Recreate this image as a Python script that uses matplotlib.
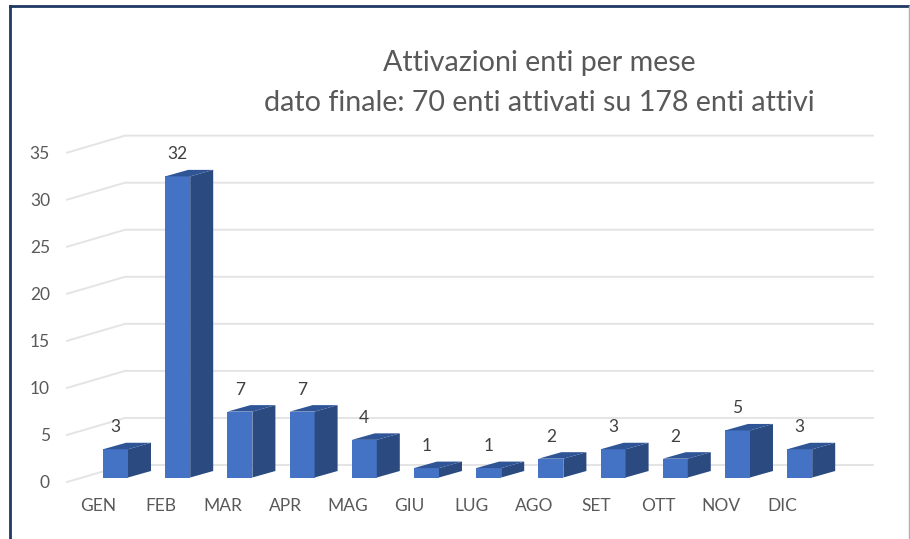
import matplotlib.pyplot as plt
from matplotlib.patches import Polygon

plt.rcParams['font.family'] = ['Lato', 'DejaVu Sans']

# Data
months = ["GEN", "FEB", "MAR", "APR", "MAG", "GIU", "LUG", "AGO", "SET", "OTT", "NOV", "DIC"]
values = [3, 32, 7, 7, 4, 1, 1, 2, 3, 2, 5, 3]
y_ticks = [0, 5, 10, 15, 20, 25, 30, 35]

title_line1 = "Attivazioni enti per mese"
title_line2 = "dato finale: 70 enti attivati su 178 enti attivi"

front_color = '#4472c4'
side_color = '#2a4a80'
top_color = '#2f5597'
grid_color = '#e4e4e4'
text_color = '#595959'
frame_color = '#1f3864'

# Pixel scale of the original: one month step and one unit of value
px_per_month = 62.2
px_per_unit = 9.41
x0_px = 115.5
y0_px = 477.5

fig = plt.figure(figsize=(9.1, 5.39), dpi=100)
ax = fig.add_axes([0, 0, 1, 1])
ax.set_xlim(-x0_px / px_per_month, (910 - x0_px) / px_per_month)
ax.set_ylim((y0_px - 539) / px_per_unit, y0_px / px_per_unit)
ax.axis('off')

# Bar size and oblique depth, in data units
bar_w = 25 / px_per_month
depth_x = 23 / px_per_month
depth_y = 6.5 / px_per_unit

# Gridlines: slanted part on the left wall, then flat along the back wall
wall_x0 = (67 - x0_px) / px_per_month
wall_x1 = (125 - x0_px) / px_per_month
wall_x2 = (873 - x0_px) / px_per_month
wall_dy = 17 / px_per_unit
wall_front_offset = -4.5 / px_per_unit
for t in y_ticks:
    y_front = t + wall_front_offset
    y_back = y_front + wall_dy
    ax.plot([wall_x0, wall_x1, wall_x2], [y_front, y_back, y_back], color=grid_color, lw=1.4, zorder=1)
    ax.text((50 - x0_px) / px_per_month, y_front - 0.1, str(t), ha='right', va='center', fontsize=12.5,
            color=text_color)

# 3D looking bars
for i, (m, v) in enumerate(zip(months, values)):
    left = i - bar_w / 2
    right = i + bar_w / 2
    ax.add_patch(Polygon([(left, 0), (right, 0), (right, v), (left, v)], color=front_color, lw=0, zorder=3))
    ax.add_patch(Polygon([(right, 0), (right + depth_x, depth_y), (right + depth_x, v + depth_y), (right, v)],
                         color=side_color, lw=0, zorder=3))
    ax.add_patch(Polygon([(left, v), (right, v), (right + depth_x, v + depth_y), (left + depth_x, v + depth_y)],
                         color=top_color, lw=0, zorder=3))
    ax.text(i, v + 1.5, str(v), ha='center', va='bottom', fontsize=12.5, color='#404040', zorder=4)
    ax.text(i - 17 / px_per_month, -3.05, m, ha='center', va='center', fontsize=12.5, color=text_color)

# Titles
ax.text((539.5 - x0_px) / px_per_month, (y0_px - 63) / px_per_unit, title_line1, ha='center', va='center',
        fontsize=20.6, color=text_color)
ax.text((539.5 - x0_px) / px_per_month, (y0_px - 103) / px_per_unit, title_line2, ha='center', va='center',
        fontsize=20.6, color=text_color)

# Frame of the pasted picture
fig.add_artist(plt.Line2D([10 / 910, 10 / 910], [0, 1 - 6 / 539], color=frame_color, lw=2))
fig.add_artist(plt.Line2D([10 / 910, 1], [1 - 6 / 539, 1 - 6 / 539], color=frame_color, lw=2))
fig.add_artist(plt.Line2D([909 / 910, 909 / 910], [0, 1 - 6 / 539], color='#b0b0b0', lw=1))

fig.savefig('out.png', dpi=100)
